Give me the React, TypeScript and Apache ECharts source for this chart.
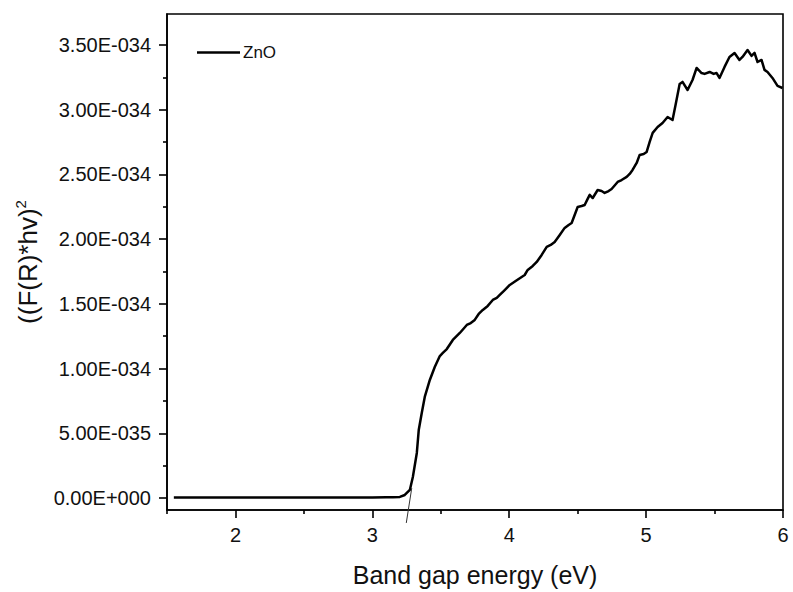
import React, { useEffect, useRef } from "react";
import * as echarts from "echarts";

// Band gap energy (eV)
const energyEV: number[] = [
  1.55, 2.0, 2.5, 3.0, 3.1, 3.15, 3.201, 3.237, 3.274, 3.296, 3.325, 3.339, 3.361, 3.383, 3.42,
  3.456, 3.493, 3.515, 3.544, 3.588, 3.639, 3.69, 3.719, 3.748, 3.777, 3.807, 3.843, 3.88,
  3.909, 3.931, 3.967, 4.004, 4.047, 4.091, 4.113, 4.135, 4.172, 4.201, 4.237, 4.274, 4.303,
  4.332, 4.369, 4.405, 4.434, 4.456, 4.478, 4.5, 4.529, 4.551, 4.573, 4.588, 4.61, 4.646,
  4.675, 4.697, 4.726, 4.748, 4.792, 4.821, 4.858, 4.88, 4.901, 4.931, 4.953, 4.982, 5.004,
  5.026, 5.048, 5.084, 5.12, 5.157, 5.193, 5.215, 5.245, 5.266, 5.303, 5.339, 5.369, 5.405,
  5.427, 5.464, 5.493, 5.515, 5.536, 5.573, 5.609, 5.646, 5.682, 5.704, 5.741, 5.77, 5.792,
  5.814, 5.843, 5.865, 5.887, 5.923, 5.96, 5.996,
];

// ((F(R)*hv)^2 in units of 1E-034
const znoValues: number[] = [
  0.004, 0.004, 0.004, 0.004, 0.005, 0.006, 0.008, 0.023, 0.062, 0.162, 0.348, 0.525, 0.657,
  0.781, 0.912, 1.012, 1.097, 1.121, 1.151, 1.221, 1.275, 1.337, 1.352, 1.376, 1.422, 1.453,
  1.484, 1.53, 1.546, 1.569, 1.607, 1.646, 1.677, 1.708, 1.723, 1.762, 1.793, 1.824, 1.878,
  1.94, 1.955, 1.978, 2.032, 2.087, 2.11, 2.125, 2.187, 2.249, 2.256, 2.264, 2.311, 2.342,
  2.318, 2.38, 2.372, 2.357, 2.372, 2.388, 2.442, 2.457, 2.481, 2.504, 2.535, 2.589, 2.651,
  2.658, 2.674, 2.751, 2.821, 2.867, 2.898, 2.944, 2.921, 3.037, 3.199, 3.215, 3.153, 3.23,
  3.323, 3.284, 3.277, 3.292, 3.277, 3.284, 3.246, 3.331, 3.408, 3.439, 3.385, 3.408, 3.462,
  3.416, 3.439, 3.369, 3.385, 3.308, 3.292, 3.246, 3.184, 3.168,
];

// Tangent (band-gap extrapolation) line endpoints
const tangentX: number[] = [3.248, 3.288];
const tangentY: number[] = [-0.193, 0.077];

const SCALE = 1e-34;
const xMajorTicks: number[] = [2, 3, 4, 5, 6];
const xMinorTicks: number[] = [1.5, 2.5, 3.5, 4.5, 5.5];
const yMajorTicks: number[] = [0, 0.5, 1, 1.5, 2, 2.5, 3, 3.5];
const yMinorTicks: number[] = [0.25, 0.75, 1.25, 1.75, 2.25, 2.75, 3.25];

const FONT = "'Liberation Sans', Arial, sans-serif";

function fmtSci(v: number): string {
  if (Math.abs(v) < 1e-9) return "0.00E+000";
  const s = (v * SCALE).toExponential(2); // e.g. 3.50e-34
  const [mant, exp] = s.split("e");
  const sign = exp[0] === "-" ? "-" : "+";
  const digits = exp.replace(/^[-+]/, "").padStart(3, "0");
  return `${mant}E${sign}${digits}`;
}

export default function App() {
  const ref = useRef<HTMLDivElement>(null);
  useEffect(() => {
    if (!ref.current) return;
    const chart = echarts.init(ref.current, undefined, { renderer: "svg" });
    const yMin = -0.093;
    const yMax = 3.74;
    const common = { color: "#111", fontFamily: FONT };
    chart.setOption({
      animation: false,
      backgroundColor: "#fff",
      textStyle: { fontFamily: FONT },
      grid: {
        left: 167,
        top: 14,
        right: 10,
        bottom: 82,
        show: true,
        borderColor: "#000",
        borderWidth: 1.6,
        backgroundColor: "transparent",
      },
      legend: {
        data: [{ name: "ZnO", icon: "rect" }],
        left: 192,
        top: 39,
        itemWidth: 43,
        itemHeight: 2.4,
        itemGap: 10,
        textStyle: { ...common, fontSize: 17, padding: [0, 0, 0, -2] },
      },
      xAxis: [
        {
          type: "value",
          min: 1.5,
          max: 6,
          name: "Band gap energy (eV)",
          nameLocation: "middle",
          nameGap: 52,
          nameTextStyle: { ...common, fontSize: 25 },
          axisLine: { show: true, onZero: false, lineStyle: { color: "#000", width: 1.6 } },
          axisTick: { show: true, inside: false, length: 8, customValues: xMajorTicks, lineStyle: { color: "#000", width: 1.6 } },
          axisLabel: { ...common, fontSize: 20, margin: 15, customValues: xMajorTicks },
          splitLine: { show: false },
        },
        {
          type: "value",
          min: 1.5,
          max: 6,
          position: "bottom",
          axisLine: { show: false, onZero: false },
          axisTick: { show: true, inside: false, length: 4, customValues: xMinorTicks, lineStyle: { color: "#000", width: 1.6 } },
          axisLabel: { show: false },
          splitLine: { show: false },
        },
      ],
      yAxis: [
        {
          type: "value",
          min: yMin,
          max: yMax,
          name: "((F(R)*hv){sup|2}",
          nameLocation: "middle",
          nameGap: 124,
          nameRotate: 90,
          nameTextStyle: {
            ...common,
            fontSize: 26,
            lineHeight: 30,
            rich: { sup: { fontSize: 15, verticalAlign: "top", lineHeight: 30, color: "#111", fontFamily: FONT } },
          },
          axisLine: { show: true, onZero: false, lineStyle: { color: "#000", width: 1.6 } },
          axisTick: { show: true, inside: false, length: 8, customValues: yMajorTicks, lineStyle: { color: "#000", width: 1.6 } },
          axisLabel: { ...common, fontSize: 20, margin: 16, customValues: yMajorTicks, formatter: (v: number) => fmtSci(v) },
          splitLine: { show: false },
        },
        {
          type: "value",
          min: yMin,
          max: yMax,
          position: "left",
          axisLine: { show: false, onZero: false },
          axisTick: { show: true, inside: false, length: 4, customValues: yMinorTicks, lineStyle: { color: "#000", width: 1.6 } },
          axisLabel: { show: false },
          splitLine: { show: false },
        },
      ],
      series: [
        {
          name: "ZnO",
          type: "line",
          xAxisIndex: 0,
          yAxisIndex: 0,
          data: energyEV.map((x, i) => [x, znoValues[i]]),
          symbol: "none",
          smooth: false,
          lineStyle: { color: "#000", width: 2.5, join: "round" },
          itemStyle: { color: "#000" },
        },
        {
          name: "tangent",
          type: "line",
          xAxisIndex: 0,
          yAxisIndex: 0,
          data: tangentX.map((x, i) => [x, tangentY[i]]),
          symbol: "none",
          clip: false,
          silent: true,
          lineStyle: { color: "#333", width: 1 },
        },
      ],
    });
    return () => chart.dispose();
  }, []);
  return (
    <div
      ref={ref}
      style={{ position: "absolute", left: 0, top: 0, width: 793, height: 592 }}
    />
  );
}
